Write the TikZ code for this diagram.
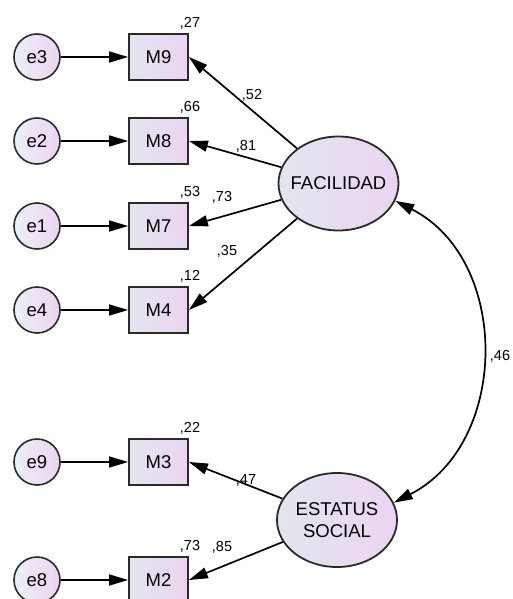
\documentclass[tikz,border=0pt]{standalone}
\usepackage{fontspec}
\setmainfont{Liberation Sans}
\usepackage{xcolor}
\usetikzlibrary{arrows.meta,shapes.geometric}
\definecolor{shadeleft}{HTML}{E2E6EE}
\definecolor{shaderight}{HTML}{ECD4F2}
\definecolor{edgegray}{HTML}{2A2A2A}

\begin{document}
\begin{tikzpicture}[x=1pt, y=1pt,
    obs/.style={rectangle, minimum width=59pt, minimum height=46pt, inner sep=0pt, draw=edgegray, line width=1.8pt, left color=shadeleft, right color=shaderight, font=\fontsize{18.5}{21}\selectfont},
    err/.style={circle, minimum size=46pt, inner sep=0pt, draw=edgegray, line width=1.6pt, left color=shadeleft!60!white, right color=shaderight, font=\fontsize{18.5}{21}\selectfont},
    lat/.style={ellipse, minimum width=120pt, minimum height=94pt, inner xsep=-6pt, inner ysep=0pt, draw=edgegray, line width=1.8pt, left color=shadeleft, right color=shaderight, align=center, font=\fontsize{18.5}{22}\selectfont},
    num/.style={inner sep=0pt, font=\fontsize{14.5}{16}\selectfont},
    arr/.style={-{Triangle[length=19pt,width=11pt]}, line width=1.7pt},
    dbl/.style={{Triangle[length=19pt,width=11pt]}-{Triangle[length=19pt,width=11pt]}, line width=1.7pt}]
    \useasboundingbox (0,0) rectangle (512,-599);
    % Draw the factors
    \node[lat] (fac) at (338.5,-183.5) {FACILIDAD};
    \node[lat] (soc) at (337,-520) {ESTATUS\\SOCIAL};
    % Draw the items with their errors
    \foreach \m/\e/\y/\r in {M9/e3/57/{,27}, M8/e2/141/{,66}, M7/e1/226/{,53}, M4/e4/310/{,12}, M3/e9/462/{,22}, M2/e8/580/{,73}} {
        \node[obs] (\m) at (158.5,-\y) {\m};
        \node[err] (\e) at (37,-\y) {\e};
        \node[num] (r\m) at (190,-\y+34) {\r};
        \draw[arr] (\e) -- (\m);
    }
    % Loadings
    \foreach \m in {M9, M8, M7, M4} {
        \draw[arr] (fac) -- (\m.east);
    }
    \foreach \m in {M3, M2} {
        \draw[arr] (soc) -- (\m.east);
    }
    \foreach \n/\x/\y [count=\i] in {{,52}/252/95, {,81}/246/146, {,73}/222/197, {,35}/227/251, {,47}/246/480, {,85}/222/547} {
        \node[num] (w\i) at (\x,-\y) {\n};
    }
    % Correlation
    \draw[dbl] (fac.-17) to[out=-27, in=27, looseness=1.1] (soc.17);
    \node[num] (cor) at (500,-356) {,46};
\end{tikzpicture}
\end{document}
